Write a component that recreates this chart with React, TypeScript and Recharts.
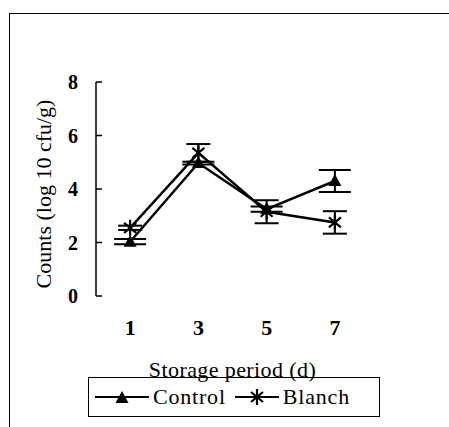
import React from 'react';
import { LineChart, Line, XAxis, YAxis, ErrorBar, Legend } from 'recharts';

const days = [1, 3, 5, 7];
const controlCounts = [2.03, 4.97, 3.25, 4.3];
const controlErrors = [0.1, 0.05, 0.1, 0.41];
const blanchCounts = [2.55, 5.35, 3.15, 2.75];
const blanchErrors = [0.08, 0.33, 0.43, 0.42];
const yTicks = [0, 2, 4, 6, 8];
const dayTicks = [1, 3, 5, 7];
const boundaryTicks = [0, 2, 4, 6, 8];
const seriesOrder = ['control', 'blanch'];

const data = days.map((day, i) => ({
    day,
    control: controlCounts[i],
    controlErr: controlErrors[i],
    blanch: blanchCounts[i],
    blanchErr: blanchErrors[i],
}));

const FONT = '"Liberation Serif", "Times New Roman", serif';

const Triangle = ({ cx, cy }: { cx: number; cy: number }) => (
    <polygon points={`${cx},${cy - 7} ${cx - 6.5},${cy + 5} ${cx + 6.5},${cy + 5}`} fill="#000" />
);

const Asterisk = ({ cx, cy }: { cx: number; cy: number }) => (
    <g stroke="#000" strokeWidth={2.2}>
        <line x1={cx} y1={cy - 8} x2={cx} y2={cy + 8} />
        <line x1={cx - 6} y1={cy - 5} x2={cx + 6} y2={cy + 5} />
        <line x1={cx - 6} y1={cy + 5} x2={cx + 6} y2={cy - 5} />
    </g>
);

const renderLegend = (props: any) => {
    const items = [...(props.payload || [])].sort(
        (a: any, b: any) => seriesOrder.indexOf(a.dataKey) - seriesOrder.indexOf(b.dataKey)
    );
    return (
        <div style={{ display: 'flex', alignItems: 'center', height: '100%', color: '#000' }}>
            {items.map((item: any) => {
                const isControl = item.dataKey === 'control';
                const w = isControl ? 54 : 44;
                return (
                    <div key={item.value} style={{ display: 'flex', alignItems: 'center', marginLeft: isControl ? 6 : 9 }}>
                        <svg width={w} height={20}>
                            <line x1={0} y1={10} x2={w} y2={10} stroke="#000" strokeWidth={2} />
                            {isControl ? <Triangle cx={w / 2} cy={11} /> : <Asterisk cx={w / 2} cy={10} />}
                        </svg>
                        <span style={{ marginLeft: 4, letterSpacing: 0.8, fontFamily: FONT, fontSize: 22 }}>
                            {item.value}
                        </span>
                    </div>
                );
            })}
        </div>
    );
};

const App: React.FC = () => {
    return (
        <div style={{ position: 'absolute', left: 0, top: 0, width: 449, height: 427, background: '#fff' }}>
            <div
                style={{
                    position: 'absolute',
                    left: 9,
                    top: 13,
                    right: 0,
                    bottom: 0,
                    borderLeft: '1.5px solid #000',
                    borderTop: '1.5px solid #000',
                }}
            />
            <div style={{ position: 'absolute', left: 0, top: 0 }}>
                <LineChart width={449} height={427} data={data} margin={{ top: 82, right: 80, left: 56, bottom: 91 }}>
                    <XAxis
                        xAxisId="marks"
                        dataKey="day"
                        type="number"
                        domain={[0, 8]}
                        ticks={boundaryTicks}
                        tick={false}
                        tickSize={-6}
                        height={0}
                        axisLine={{ stroke: '#000', strokeWidth: 1.5 }}
                        tickLine={{ stroke: '#000', strokeWidth: 1.5 }}
                    />
                    <XAxis
                        xAxisId="labels"
                        dataKey="day"
                        type="number"
                        domain={[0, 8]}
                        ticks={dayTicks}
                        axisLine={false}
                        tickLine={false}
                        height={40}
                        tickMargin={17}
                        tick={{ fill: '#000', fontSize: 22, fontWeight: 'bold', fontFamily: FONT }}
                        label={{
                            content: ({ viewBox }: any) => (
                                <text
                                    x={viewBox.x + viewBox.width / 2}
                                    y={viewBox.y + 81}
                                    textAnchor="middle"
                                    fontFamily={FONT}
                                    fontSize={22}
                                    letterSpacing={0.4}
                                    fill="#000"
                                >
                                    Storage period (d)
                                </text>
                            ),
                        }}
                    />
                    <YAxis
                        domain={[0, 8]}
                        ticks={yTicks}
                        width={40}
                        tickSize={-6}
                        tickMargin={24}
                        axisLine={{ stroke: '#000', strokeWidth: 1.5 }}
                        tickLine={{ stroke: '#000', strokeWidth: 1.5 }}
                        tick={{ fill: '#000', fontSize: 20, fontWeight: 'bold', fontFamily: FONT }}
                        label={{
                            content: ({ viewBox }: any) => {
                                const x = viewBox.x - 5;
                                const y = viewBox.y + viewBox.height / 2 + 5;
                                return (
                                    <text
                                        x={x}
                                        y={y}
                                        transform={`rotate(-90, ${x}, ${y})`}
                                        textAnchor="middle"
                                        fontFamily={FONT}
                                        fontSize={22}
                                        fill="#000"
                                    >
                                        Counts (log 10 cfu/g)
                                    </text>
                                );
                            },
                        }}
                    />
                    <Legend
                        layout="horizontal"
                        verticalAlign="middle"
                        align="center"
                        content={renderLegend}
                        wrapperStyle={{
                            left: 88,
                            top: 377,
                            width: 292,
                            height: 40,
                            border: '1.5px solid #000',
                            boxSizing: 'border-box',
                        }}
                    />
                    <Line
                        xAxisId="labels"
                        dataKey="control"
                        name="Control"
                        stroke="#000"
                        strokeWidth={2.5}
                        isAnimationActive={false}
                        dot={(p: any) => <Triangle key={`c-${p.index}`} cx={p.cx} cy={p.cy} />}
                        activeDot={false}
                    >
                        <ErrorBar dataKey="controlErr" direction="y" width={16} stroke="#000" strokeWidth={2} />
                    </Line>
                    <Line
                        xAxisId="labels"
                        dataKey="blanch"
                        name="Blanch"
                        stroke="#000"
                        strokeWidth={2.5}
                        isAnimationActive={false}
                        dot={(p: any) => <Asterisk key={`b-${p.index}`} cx={p.cx} cy={p.cy} />}
                        activeDot={false}
                    >
                        <ErrorBar dataKey="blanchErr" direction="y" width={12} stroke="#000" strokeWidth={2} />
                    </Line>
                </LineChart>
            </div>
        </div>
    );
};

export default App;
